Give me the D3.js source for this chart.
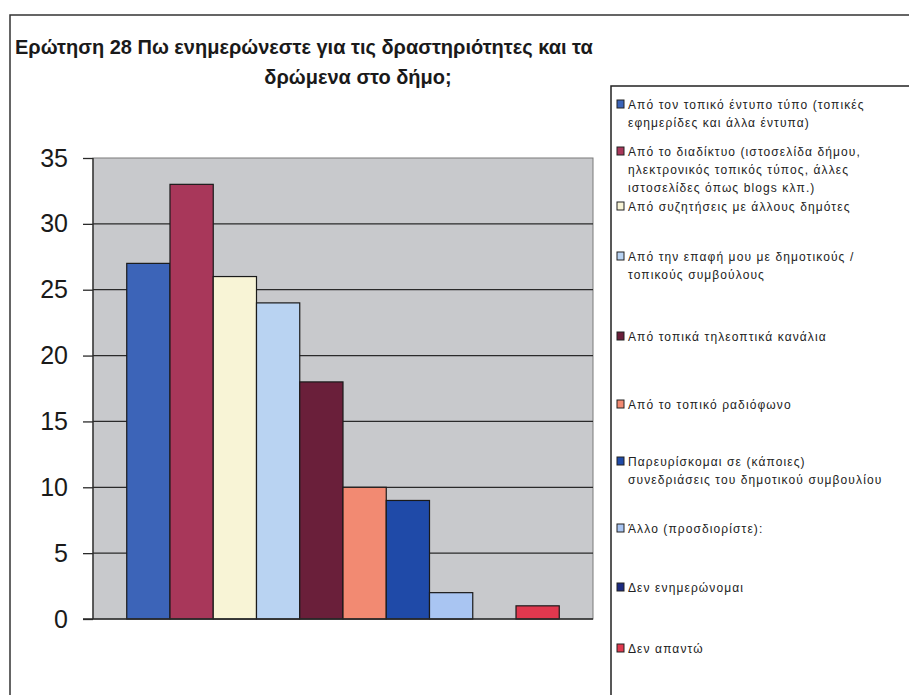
<!DOCTYPE html>
<html><head><meta charset="utf-8">
<script src="https://cdn.jsdelivr.net/npm/d3@7"></script>
<style>body{margin:0;background:#fff}svg{display:block}</style>
</head><body>
<svg id="c" width="909" height="695"></svg>
<script>
const categories = [
  "Από τον τοπικό έντυπο τύπο (τοπικές|εφημερίδες και άλλα έντυπα)",
  "Από το διαδίκτυο (ιστοσελίδα δήμου,|ηλεκτρονικός τοπικός τύπος, άλλες|ιστοσελίδες όπως blogs κλπ.)",
  "Από συζητήσεις με άλλους δημότες",
  "Από την επαφή μου με δημοτικούς /|τοπικούς συμβούλους",
  "Από τοπικά τηλεοπτικά κανάλια",
  "Από το τοπικό ραδιόφωνο",
  "Παρευρίσκομαι σε (κάποιες)|συνεδριάσεις του δημοτικού συμβουλίου",
  "Άλλο (προσδιορίστε):",
  "Δεν ενημερώνομαι",
  "Δεν απαντώ"
];
const values = [27, 33, 26, 24, 18, 10, 9, 2, 0, 1];
const colors = ["#3c64b8","#a8375a","#f8f4d6","#b9d3f2","#6a1f3a","#f28a72","#1f4aa8","#a9c5f2","#1c2a80","#e0384e"];
const yTicks = [0, 5, 10, 15, 20, 25, 30, 35];
const titleLines = ["Ερώτηση 28 Πω ενημερώνεστε για τις δραστηριότητες και τα", "δρώμενα στο δήμο;"];
const legendY = [109, 156, 211, 261, 341, 409, 466, 533, 592, 653];

const svg = d3.select("#c");
const font = "Liberation Sans, Arial, sans-serif";

// outer frame
svg.append("path").attr("d","M10,695 L10,15 L909,15").attr("fill","none").attr("stroke","#333").attr("stroke-width",1.5);

// title
svg.append("text").attr("x",15).attr("y",54).attr("font-family",font).attr("font-weight","bold")
  .attr("font-size",20).attr("fill","#1a1a1a").text(titleLines[0]);
svg.append("text").attr("x",358).attr("y",84).attr("text-anchor","middle").attr("font-family",font).attr("font-weight","bold")
  .attr("font-size",20).attr("fill","#1a1a1a").text(titleLines[1]);

// plot
const L=93, R=593, T=158, B=619;
const x = d3.scaleBand().domain(d3.range(categories.length)).range([L,R]).paddingInner(0).paddingOuter(0.78);
const y = d3.scaleLinear().domain([0,35]).range([B,T]);

svg.append("rect").attr("x",L).attr("y",T).attr("width",R-L).attr("height",B-T).attr("fill","#c8c9cc").attr("stroke","#7a7a7a").attr("stroke-width",1);

// gridlines
svg.append("g").selectAll("line").data(yTicks.filter(d=>d>0&&d<35)).join("line")
  .attr("x1",L).attr("x2",R).attr("y1",d=>y(d)).attr("y2",d=>y(d)).attr("stroke","#2a2a2a").attr("stroke-width",1.3);

// axis
const ax = svg.append("g").attr("transform",`translate(${L},0)`)
  .call(d3.axisLeft(y).tickValues(yTicks).tickSize(10).tickPadding(15));
ax.select(".domain").attr("stroke","#2a2a2a").attr("stroke-width",1.3).attr("d",`M0,${T}V${B}`);
ax.selectAll(".tick line").attr("stroke","#2a2a2a").attr("stroke-width",1.3);
ax.selectAll(".tick text").attr("font-family",font).attr("font-size",25).attr("fill","#1a1a1a");

// bars
svg.append("g").selectAll("rect").data(values).join("rect")
  .attr("x",(d,i)=>x(i)).attr("width",x.bandwidth())
  .attr("y",d=>y(d)).attr("height",d=>B-y(d))
  .attr("fill",(d,i)=>colors[i]).attr("stroke",d=>d>0?"#1a1a1a":"none").attr("stroke-width",1.2);

// baseline
svg.append("line").attr("x1",L-10).attr("x2",R).attr("y1",B).attr("y2",B).attr("stroke","#2a2a2a").attr("stroke-width",1.5);

// legend box
svg.append("path").attr("d","M611,695 L611,86 L909,86").attr("fill","none").attr("stroke","#222").attr("stroke-width",1.5);

const lg = svg.append("g").selectAll("g").data(categories).join("g")
  .attr("transform",(d,i)=>`translate(617,${legendY[i]})`);
lg.append("rect").attr("x",0).attr("y",-9).attr("width",7).attr("height",8)
  .attr("fill",(d,i)=>colors[i]).attr("stroke","#222").attr("stroke-width",1);
lg.append("text").attr("font-family",font).attr("font-size",12).attr("letter-spacing",1.1).attr("fill","#222")
  .selectAll("tspan").data(d=>d.split("|")).join("tspan")
  .attr("x",11).attr("dy",(d,i)=>i===0?0:18).text(d=>d);
</script>
</body></html>
